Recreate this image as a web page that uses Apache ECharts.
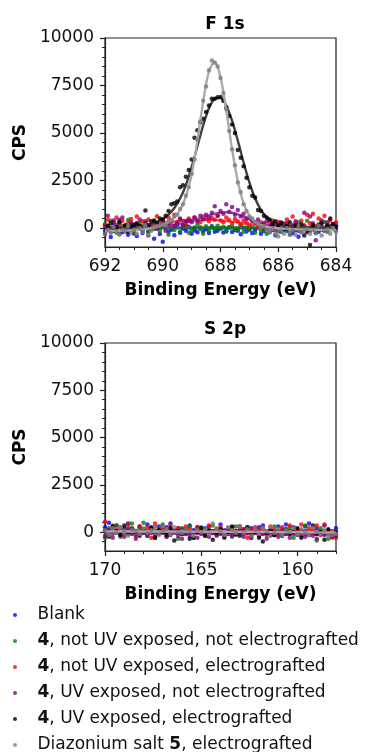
<!DOCTYPE html>
<html>
<head>
<meta charset="utf-8">
<script src="https://cdn.jsdelivr.net/npm/echarts@6/dist/echarts.min.js"></script>
<style>
  html, body { margin: 0; padding: 0; background: #fff; }
  #chart { width: 367px; height: 752px; }
</style>
</head>
<body>
<div id="chart"></div>
<script>
// ---- data ----
const seriesNames = [
  "Blank",
  "4, not UV exposed, not electrografted",
  "4, not UV exposed, electrografted",
  "4, UV exposed, not electrografted",
  "4, UV exposed, electrografted",
  "Diazonium salt 5, electrografted"
];
const dotColors = ["#0000ff", "#008000", "#ff0000", "#800080", "#000000", "#808080"];
const fitColors = ["#3355aa", "#2e6b4f", "#ee5566", "#a040a0", "#404040", "#aaaaaa"];

// F 1s, binding energy (eV)
const f1sEnergy = [
  692.0, 691.9, 691.8, 691.7, 691.6, 691.5, 691.4, 691.3, 691.2, 691.1,
  691.0, 690.9, 690.8, 690.7, 690.6, 690.5, 690.4, 690.3, 690.2, 690.1,
  690.0, 689.9, 689.8, 689.7, 689.6, 689.5, 689.4, 689.3, 689.2, 689.1,
  689.0, 688.9, 688.8, 688.7, 688.6, 688.5, 688.4, 688.3, 688.2, 688.1,
  688.0, 687.9, 687.8, 687.7, 687.6, 687.5, 687.4, 687.3, 687.2, 687.1,
  687.0, 686.9, 686.8, 686.7, 686.6, 686.5, 686.4, 686.3, 686.2, 686.1,
  686.0, 685.9, 685.8, 685.7, 685.6, 685.5, 685.4, 685.3, 685.2, 685.1,
  685.0, 684.9, 684.8, 684.7, 684.6, 684.5, 684.4, 684.3, 684.2, 684.1,
  684.0
];
const f1sBlank = [
  -150, 120, -480, 250, -60, 420, -230, 80, -350, 180,
  -110, -420, 90, -260, 310, -180, -40, -560, 150, -320,
  -720, 40, -200, -90, -380, 110, -250, -20, -150, 60,
  -300, -130, -230, 20, -180, -60, -260, 90, -200, -140,
  -30, -240, -160, 40, -210, -90, -150, -330, 10, -180,
  -70, -260, -120, 50, -300, -160, -40, -230, -110, -380,
  60, -200, -90, -150, 30, -270, -120, -460, -60, 110,
  -230, -140, 150, -80, -200, 80, -150, 180, -60, 40,
  -110
];
const f1sNoUvNoEg = [
  200, -100, 380, 50, -250, 300, 120, -180, 420, 60,
  -300, 150, 250, -80, 350, -220, 100, -50, 280, -150,
  50, 200, -350, 120, -100, 300, -200, 80, 150, -250,
  -120, 30, 180, -60, -300, 90, -150, 40, -80, 120,
  -30, 60, -180, 20, 90, -120, -50, 150, -200, 30,
  -90, 110, -250, 40, -150, 70, -300, 120, -60, 200,
  -180, 80, 250, -120, -350, 150, -40, 300, -220, 90,
  380, -150, 60, -280, 200, -90, 320, -200, 120, -60,
  150
];
const f1sNoUvEg = [
  150, 420, -50, 300, 550, 100, 380, -120, 250, 480,
  200, 600, 50, 350, 150, 450, -80, 280, 620, 180,
  400, 250, 550, 150, 700, 300, 450, 350, 200, 500,
  380, 550, 420, 300, 600, 480, 350, 520, 430, 650,
  400, 300, 550, 420, 250, 480, 350, 200, 400, 300,
  150, 350, 250, 80, 300, 180, -50, 250, 400, 120,
  320, -100, 200, 450, 100, 600, 250, -50, 380, 150,
  700, 250, 750, 100, 500, 300, 650, 50, 400, 200,
  300
];
const f1sUvNoEg = [
  50, 650, -200, 400, 150, -300, 550, 100, -150, 300,
  -250, 200, 450, -100, 250, -400, 100, 350, -50, 150,
  300, -150, 200, 400, 100, 250, 500, 150, 350, 400,
  300, 550, 350, 650, 450, 700, 550, 800, 1150, 650,
  900, 750, 1250, 850, 1100, 700, 950, 600, 750, 500,
  550, 400, 300, 450, 150, 250, 350, 50, 200, -100,
  150, 300, -50, 250, -250, 100, 350, -150, 50, 800,
  -200, 600, 250, -650, 150, 400, -100, 300, 50, 200,
  100
];
const f1sUvEg = [
  -300, 100, 250, -150, 50, 300, -50, 150, -200, 80,
  150, 250, 100, -100, 920, 150, 350, 400, 250, 500,
  450, 650, 900, 1250, 1300, 1400, 2150, 2250, 2700, 3050,
  3600, 4750, 5150, 5550, 5750, 6100, 6450, 6800, 6800, 6880,
  6900, 6700, 6350, 5900, 5450, 5000, 4100, 3700, 3250, 2650,
  2150, 1700, 1600, 950, 900, 650, 550, 450, 200, 350,
  150, 250, -50, 100, 300, -100, 150, 50, 200, -400,
  -150, -900, 150, -200, 50, 250, -100, 100, 500, 200,
  50
];
const f1sDiazonium = [
  -300, -100, -250, 50, -200, -350, -80, -150, 100, -250,
  -100, -300, 0, -200, 150, -350, -150, 50, 100, 150,
  200, 150, 350, 400, 600, 700, 1000, 1250, 1700, 2150,
  2850, 3600, 4650, 5600, 6700, 7450, 8300, 8820, 8700, 8500,
  7900, 7100, 6250, 5100, 4150, 3300, 2400, 1900, 1250, 900,
  600, 500, 300, 200, 50, 100, -100, -200, -50, -300,
  -450, -150, -300, 0, -250, -100, -350, 50, -200, -150,
  -50, -300, -100, -250, 100, -400, -150, -50, -300, 0,
  -200
];

// F 1s fitted curves
const f1sFitEnergy = [
  692.0, 691.8, 691.6, 691.4, 691.2, 691.0, 690.8, 690.6, 690.4, 690.2,
  690.0, 689.8, 689.6, 689.4, 689.2, 689.0, 688.8, 688.6, 688.4, 688.2,
  688.0, 687.8, 687.6, 687.4, 687.2, 687.0, 686.8, 686.6, 686.4, 686.2,
  686.0, 685.8, 685.6, 685.4, 685.2, 685.0, 684.8, 684.6, 684.4, 684.2,
  684.0
];
const f1sFitBlank = [
  -20, -20, -20, -20, -20, -20, -20, -20, -20, -20,
  -20, -20, -20, -20, -20, -20, -20, -20, -20, -20,
  -20, -20, -20, -20, -20, -20, -20, -20, -20, -20,
  -20, -20, -20, -20, -20, -20, -20, -20, -20, -20,
  -20
];
const f1sFitNoUvNoEg = [
  10, 10, 10, 10, 10, 10, 10, 10, 10, 12,
  14, 16, 18, 20, 22, 24, 26, 28, 30, 30,
  30, 30, 28, 26, 24, 22, 20, 18, 16, 14,
  12, 10, 10, 10, 10, 10, 10, 10, 10, 10,
  10
];
const f1sFitNoUvEg = [
  60, 65, 70, 80, 90, 105, 125, 150, 180, 215,
  255, 295, 335, 375, 405, 430, 445, 450, 445, 430,
  405, 370, 330, 285, 240, 200, 165, 135, 110, 95,
  80, 70, 65, 60, 55, 55, 50, 50, 50, 50,
  50
];
const f1sFitUvNoEg = [
  40, 40, 40, 40, 45, 45, 50, 55, 65, 80,
  100, 130, 170, 220, 290, 370, 460, 560, 660, 750,
  810, 830, 800, 720, 600, 460, 330, 230, 160, 115,
  90, 75, 65, 60, 55, 55, 50, 50, 50, 50,
  50
];
const f1sFitUvEg = [
  20, 25, 30, 40, 55, 75, 105, 150, 220, 320,
  470, 700, 1050, 1550, 2250, 3200, 4300, 5400, 6300, 6800,
  6850, 6450, 5650, 4600, 3450, 2400, 1550, 950, 560, 330,
  200, 130, 90, 65, 50, 40, 35, 30, 28, 25,
  25
];
const f1sFitDiazonium = [
  -150, -150, -145, -140, -130, -115, -95, -60, -10, 60,
  170, 320, 560, 950, 1650, 2800, 4600, 6650, 8250, 8750,
  7950, 6200, 4150, 2450, 1300, 650, 320, 150, 60, 10,
  -20, -40, -55, -65, -75, -85, -90, -95, -100, -100,
  -100
];

// S 2p, binding energy (eV)
const s2pEnergy = [
  170.0, 169.8, 169.6, 169.4, 169.2, 169.0, 168.8, 168.6, 168.4, 168.2,
  168.0, 167.8, 167.6, 167.4, 167.2, 167.0, 166.8, 166.6, 166.4, 166.2,
  166.0, 165.8, 165.6, 165.4, 165.2, 165.0, 164.8, 164.6, 164.4, 164.2,
  164.0, 163.8, 163.6, 163.4, 163.2, 163.0, 162.8, 162.6, 162.4, 162.2,
  162.0, 161.8, 161.6, 161.4, 161.2, 161.0, 160.8, 160.6, 160.4, 160.2,
  160.0, 159.8, 159.6, 159.4, 159.2, 159.0, 158.8, 158.6, 158.4, 158.2,
  158.0
];
const s2pBlank = [
  250, 500, 100, 350, -50, 200, 450, 150, -100, 300,
  50, 400, 200, -150, 300, 100, 250, 450, 0, 200,
  150, -100, 350, 100, 250, -50, 200, 300, 50, 150,
  400, 100, -100, 250, 50, 300, 150, -50, 200, 100,
  250, 350, 0, 150, -150, 300, 100, 400, 50, 250,
  150, -100, 300, 450, 50, 200, -50, 350, 100, -150,
  200
];
const s2pNoUvNoEg = [
  -300, 200, -100, 350, -250, 100, 0, 450, -150, 250,
  500, -200, 100, 300, -50, 400, -250, 150, 50, -350,
  200, -100, 300, -300, 100, 250, -150, 0, 350, -200,
  150, -50, 200, -250, 300, 50, -100, 250, -300, 100,
  -150, 200, 50, -200, 300, -50, 150, -100, 250, -300,
  100, -200, 350, -50, 150, -450, 200, -100, -350, 50,
  -150
];
const s2pNoUvEg = [
  550, -100, 350, 100, 250, -50, 400, 150, -200, 300,
  0, 250, -300, 450, 100, 200, -150, 350, 50, 200,
  -100, 300, 150, -50, 250, 100, -200, 350, 0, 150,
  250, -100, 200, 50, -50, 300, 150, -300, 100, 250,
  50, 200, -150, 300, 100, -50, 250, 0, 350, -100,
  150, 400, -50, 200, 100, 350, -150, 400, 0, -300,
  -300
];
const s2pUvNoEg = [
  -200, 100, -300, 50, -150, -250, 200, -100, -350, 0,
  -50, -200, 150, -300, -100, 50, -250, -150, 100, -200,
  -350, -50, -200, 0, -300, -100, 150, -250, -50, -150,
  -100, -300, 50, -200, -150, 100, -250, -50, -300, 0,
  -200, -100, -350, 50, -150, -250, 0, -100, -300, -50,
  -150, 100, -250, -50, -200, -350, 0, -150, -100, -250,
  -200
];
const s2pUvEg = [
  100, -250, 300, 50, -150, 350, -100, 200, 0, -200,
  150, -50, 250, -300, 100, 0, -150, 200, -450, 50,
  -100, 150, -350, -300, 0, 200, -200, 100, -400, -50,
  150, -250, 0, 300, -100, -200, 50, 250, -150, 0,
  -300, -500, -50, 100, -150, 50, -200, 150, -100, 0,
  200, -300, 50, -150, 350, -100, 0, -400, 150, -100,
  0
];
const s2pDiazonium = [
  100, -150, 200, -50, 250, 0, -200, 150, 50, -100,
  200, -50, 100, 300, -150, 50, 150, -100, 250, 0,
  -50, 150, 50, -200, 100, 0, 150, -100, 450, 200,
  50, -150, 250, 100, -50, 300, 0, 150, -200, 100,
  -100, 200, 50, 250, -50, 150, -150, 100, 0, 200,
  -100, 150, 50, -150, 200, 0, -50, 100, -200, -150,
  -100
];

// S 2p fitted curves (flat backgrounds)
const s2pFitEnergy = [170, 167, 164, 161, 158];
const s2pFitBlank = [120, 110, 100, 90, 80];
const s2pFitNoUvNoEg = [20, 10, 0, -10, -20];
const s2pFitNoUvEg = [80, 70, 60, 50, 40];
const s2pFitUvNoEg = [-80, -90, -100, -110, -120];
const s2pFitUvEg = [0, -10, -20, -30, -40];
const s2pFitDiazonium = [40, 30, 20, 0, -30];

// ticks
const cpsTicks = [0, 2500, 5000, 7500, 10000];
const cpsMinorTicks = [-500, 500, 1000, 1500, 2000, 3000, 3500, 4000, 4500,
  5500, 6000, 6500, 7000, 8000, 8500, 9000, 9500];
const f1sTicks = [684, 686, 688, 690, 692];
const f1sMinorTicks = [684.5, 685, 685.5, 686.5, 687, 687.5, 688.5, 689, 689.5, 690.5, 691, 691.5];
const s2pTicks = [160, 165, 170];
const s2pMinorTicks = [158, 159, 161, 162, 163, 164, 166, 167, 168, 169];

const f1sData = [f1sBlank, f1sNoUvNoEg, f1sNoUvEg, f1sUvNoEg, f1sUvEg, f1sDiazonium];
const f1sFits = [f1sFitBlank, f1sFitNoUvNoEg, f1sFitNoUvEg, f1sFitUvNoEg, f1sFitUvEg, f1sFitDiazonium];
const s2pData = [s2pBlank, s2pNoUvNoEg, s2pNoUvEg, s2pUvNoEg, s2pUvEg, s2pDiazonium];
const s2pFits = [s2pFitBlank, s2pFitNoUvNoEg, s2pFitNoUvEg, s2pFitUvNoEg, s2pFitUvEg, s2pFitDiazonium];

// ---- chart ----
const FONT = "DejaVu Sans";
const chart = echarts.init(document.getElementById("chart"), null, { renderer: "canvas" });

const pair = (xs, ys) => xs.map((x, i) => [x, ys[i]]);

function mainXAxis(grid, min, max, ticks) {
  return {
    type: "value", gridIndex: grid, min: min, max: max, inverse: true,
    name: "Binding Energy (eV)", nameLocation: "middle", nameGap: 35,
    nameTextStyle: { fontFamily: FONT, fontSize: 17, fontWeight: "bold", color: "#000" },
    axisLine: { show: true, onZero: false, lineStyle: { color: "#222", width: 1.2 } },
    axisTick: { show: true, inside: false, length: 5, customValues: ticks, lineStyle: { color: "#222", width: 1.2 } },
    axisLabel: { customValues: ticks, margin: 11, fontFamily: FONT, fontSize: 17, color: "#111",
      formatter: v => String(v) },
    splitLine: { show: false }
  };
}
function minorXAxis(grid, min, max, ticks) {
  return {
    type: "value", gridIndex: grid, min: min, max: max, inverse: true, position: "bottom",
    axisLine: { show: false, onZero: false },
    axisTick: { show: true, length: 3, customValues: ticks, lineStyle: { color: "#222", width: 1 } },
    axisLabel: { show: false },
    splitLine: { show: false }
  };
}
function mainYAxis(grid) {
  return {
    type: "value", gridIndex: grid, min: -1000, max: 10000,
    name: "CPS", nameLocation: "middle", nameGap: 71,
    nameTextStyle: { fontFamily: FONT, fontSize: 17, fontWeight: "bold", color: "#000" },
    axisLine: { show: true, onZero: false, lineStyle: { color: "#222", width: 1.2 } },
    axisTick: { show: true, inside: false, length: 5, customValues: cpsTicks, lineStyle: { color: "#222", width: 1.2 } },
    axisLabel: { customValues: cpsTicks, margin: 11, fontFamily: FONT, fontSize: 17, color: "#111",
      formatter: v => String(v) },
    splitLine: { show: false }
  };
}
function minorYAxis(grid) {
  return {
    type: "value", gridIndex: grid, min: -1000, max: 10000, position: "left",
    axisLine: { show: false, onZero: false },
    axisTick: { show: true, length: 3, customValues: cpsMinorTicks, lineStyle: { color: "#222", width: 1 } },
    axisLabel: { show: false },
    splitLine: { show: false }
  };
}

const series = [];
function addPanel(grid, energy, data, fitEnergy, fits) {
  const xi = grid * 2, yi = grid * 2;
  for (let k = 0; k < seriesNames.length; k++) {
    series.push({
      name: seriesNames[k], type: "scatter", xAxisIndex: xi, yAxisIndex: yi,
      data: pair(energy, data[k]), symbol: "circle", symbolSize: 4.5,
      itemStyle: { color: dotColors[k] }, silent: true, z: 2 + k
    });
    series.push({
      type: "line", xAxisIndex: xi, yAxisIndex: yi,
      data: pair(fitEnergy, fits[k]), smooth: 0.3, showSymbol: false,
      lineStyle: { color: fitColors[k], width: 2.4 }, silent: true, z: 2 + k
    });
  }
}
addPanel(0, f1sEnergy, f1sData, f1sFitEnergy, f1sFits);
addPanel(1, s2pEnergy, s2pData, s2pFitEnergy, s2pFits);

const boldNums = (name) => name.replace(/^4,/, "{b|4},").replace("salt 5,", "salt {b|5},");

chart.setOption({
  animation: false,
  title: [
    { text: "F 1s", left: 220, top: 11, textAlign: "center",
      textStyle: { fontFamily: FONT, fontSize: 17, fontWeight: "bold", color: "#000" } },
    { text: "S 2p", left: 220, top: 316, textAlign: "center",
      textStyle: { fontFamily: FONT, fontSize: 17, fontWeight: "bold", color: "#000" } }
  ],
  grid: [
    { left: 105, top: 38, width: 231, height: 209, show: true, borderColor: "#222", borderWidth: 1.2, backgroundColor: "transparent" },
    { left: 105, top: 343, width: 231, height: 208, show: true, borderColor: "#222", borderWidth: 1.2, backgroundColor: "transparent" }
  ],
  xAxis: [
    mainXAxis(0, 684, 692, f1sTicks), minorXAxis(0, 684, 692, f1sMinorTicks),
    mainXAxis(1, 158, 170, s2pTicks), minorXAxis(1, 158, 170, s2pMinorTicks)
  ],
  yAxis: [mainYAxis(0), minorYAxis(0), mainYAxis(1), minorYAxis(1)],
  legend: {
    orient: "vertical", left: 8, top: 600, height: 200,
    data: seriesNames.map(n => ({ name: n, icon: "circle" })),
    itemWidth: 35, itemHeight: 4, itemGap: 6,
    selectedMode: false,
    formatter: boldNums,
    textStyle: {
      fontFamily: FONT, fontSize: 17, color: "#111", lineHeight: 20,
      rich: { b: { fontFamily: FONT, fontSize: 17, fontWeight: "bold", color: "#111", lineHeight: 20 } }
    }
  },
  series: series
});
</script>
</body>
</html>
